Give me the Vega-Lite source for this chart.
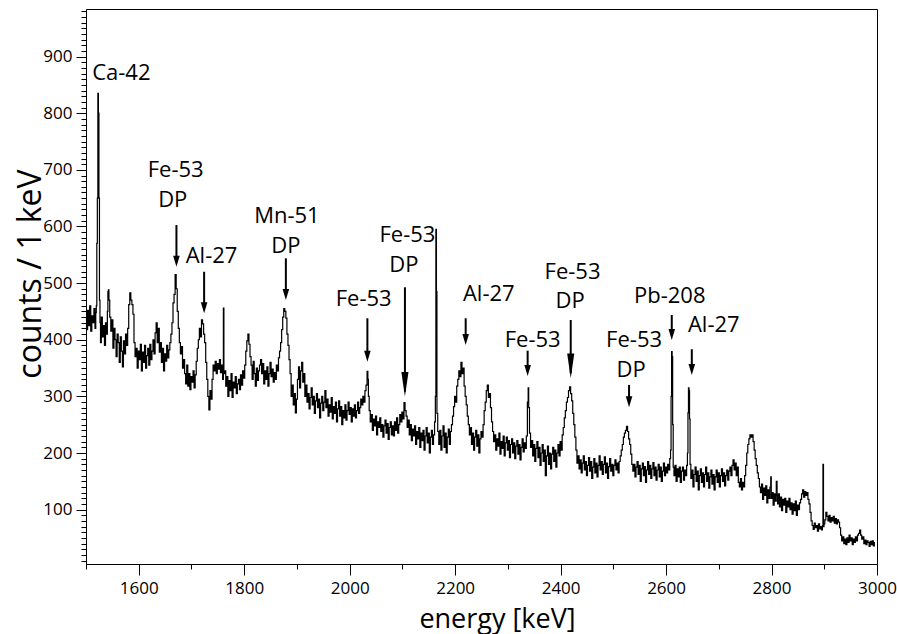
{
"$schema": "https://vega.github.io/schema/vega-lite/v6.json",
"width": 791, "height": 555,
"autosize": {"type": "none"},
"padding": {"left": 86, "top": 9, "right": 20, "bottom": 70},
"config": {"view": {"stroke": "black", "strokeWidth": 1}, "font": "Open Sans",
  "axis": {"grid": false, "domainColor": "black", "tickColor": "black", "labelColor": "black", "titleColor": "black", "labelFont": "Open Sans", "titleFont": "Open Sans", "labelFontSize": 17, "titleFontWeight": "normal", "labelOverlap": false, "labelFlush": false, "tickWidth": 1, "domainWidth": 1}},
"resolve": {"axis": {"x": "independent", "y": "independent"}},
"datasets": {
"spec": [
{"e":1500,"c":440},{"e":1502,"c":418},{"e":1504,"c":452},{"e":1506,"c":425},{"e":1508,"c":460},{"e":1510,"c":415},{"e":1512,"c":442},{"e":1514,"c":430},{"e":1516,"c":455},{"e":1518,"c":420},{"e":1519,"c":448},
{"e":1520,"c":460},{"e":1521,"c":570},{"e":1522,"c":650},{"e":1523,"c":835},{"e":1524,"c":800},{"e":1525,"c":650},{"e":1526,"c":470},{"e":1527,"c":430},
{"e":1528,"c":395},{"e":1530,"c":440},{"e":1532,"c":405},{"e":1534,"c":425},{"e":1536,"c":390},{"e":1538,"c":430},{"e":1540,"c":410},{"e":1541,"c":450},{"e":1542,"c":485},{"e":1543,"c":488},{"e":1544,"c":470},{"e":1546,"c":440},{"e":1548,"c":415},
{"e":1550,"c":435},{"e":1552,"c":385},{"e":1554,"c":420},{"e":1556,"c":400},{"e":1558,"c":370},{"e":1560,"c":410},{"e":1562,"c":395},{"e":1564,"c":360},{"e":1566,"c":405},{"e":1568,"c":380},{"e":1570,"c":352},{"e":1572,"c":398},{"e":1574,"c":375},{"e":1576,"c":410},{"e":1578,"c":390},
{"e":1580,"c":420},{"e":1582,"c":462},{"e":1584,"c":483},{"e":1586,"c":470},{"e":1588,"c":462},{"e":1590,"c":445},{"e":1592,"c":395},{"e":1594,"c":370},{"e":1596,"c":385},{"e":1598,"c":350},
{"e":1600,"c":380},{"e":1602,"c":365},{"e":1604,"c":392},{"e":1606,"c":345},{"e":1608,"c":378},{"e":1610,"c":360},{"e":1612,"c":390},{"e":1614,"c":350},{"e":1616,"c":372},{"e":1618,"c":385},{"e":1620,"c":355},{"e":1622,"c":392},{"e":1624,"c":365},{"e":1626,"c":380},{"e":1628,"c":400},
{"e":1630,"c":375},{"e":1632,"c":412},{"e":1634,"c":430},{"e":1636,"c":395},{"e":1638,"c":420},{"e":1640,"c":378},{"e":1642,"c":395},{"e":1644,"c":360},{"e":1646,"c":385},{"e":1648,"c":345},{"e":1650,"c":375},{"e":1652,"c":362},{"e":1654,"c":390},{"e":1656,"c":368},{"e":1658,"c":382},
{"e":1660,"c":395},{"e":1662,"c":410},{"e":1664,"c":430},{"e":1666,"c":465},{"e":1668,"c":480},{"e":1670,"c":515},{"e":1672,"c":490},{"e":1674,"c":450},{"e":1676,"c":420},{"e":1678,"c":395},
{"e":1680,"c":375},{"e":1682,"c":388},{"e":1684,"c":350},{"e":1686,"c":365},{"e":1688,"c":340},{"e":1690,"c":322},{"e":1692,"c":355},{"e":1694,"c":318},{"e":1696,"c":340},{"e":1698,"c":312},
{"e":1700,"c":335},{"e":1702,"c":325},{"e":1704,"c":345},{"e":1706,"c":315},{"e":1708,"c":338},{"e":1710,"c":362},{"e":1712,"c":385},{"e":1714,"c":400},{"e":1716,"c":420},{"e":1718,"c":405},{"e":1720,"c":435},{"e":1722,"c":428},{"e":1724,"c":410},{"e":1726,"c":395},{"e":1728,"c":360},
{"e":1730,"c":330},{"e":1732,"c":300},{"e":1734,"c":276},{"e":1736,"c":310},{"e":1738,"c":295},{"e":1740,"c":330},{"e":1742,"c":355},{"e":1744,"c":345},{"e":1746,"c":362},{"e":1748,"c":340},{"e":1750,"c":358},{"e":1752,"c":348},{"e":1754,"c":365},{"e":1756,"c":342},{"e":1758,"c":355},
{"e":1760,"c":330},{"e":1761,"c":456},{"e":1762,"c":340},{"e":1764,"c":345},{"e":1766,"c":318},{"e":1768,"c":335},{"e":1770,"c":300},{"e":1772,"c":328},{"e":1774,"c":310},{"e":1776,"c":340},{"e":1778,"c":298},
{"e":1780,"c":325},{"e":1782,"c":315},{"e":1784,"c":335},{"e":1786,"c":305},{"e":1788,"c":322},{"e":1790,"c":330},{"e":1792,"c":312},{"e":1794,"c":338},{"e":1796,"c":320},{"e":1798,"c":345},
{"e":1800,"c":332},{"e":1802,"c":355},{"e":1804,"c":380},{"e":1806,"c":398},{"e":1808,"c":410},{"e":1810,"c":392},{"e":1812,"c":370},{"e":1814,"c":355},{"e":1816,"c":330},{"e":1818,"c":362},
{"e":1820,"c":340},{"e":1822,"c":318},{"e":1824,"c":350},{"e":1826,"c":328},{"e":1828,"c":345},{"e":1830,"c":355},{"e":1832,"c":365},{"e":1834,"c":340},{"e":1836,"c":358},{"e":1838,"c":322},
{"e":1840,"c":345},{"e":1842,"c":330},{"e":1844,"c":352},{"e":1846,"c":318},{"e":1848,"c":340},{"e":1850,"c":360},{"e":1852,"c":335},{"e":1854,"c":348},{"e":1856,"c":325},{"e":1858,"c":342},
{"e":1860,"c":330},{"e":1862,"c":355},{"e":1864,"c":345},{"e":1866,"c":368},{"e":1868,"c":380},{"e":1870,"c":395},{"e":1872,"c":418},{"e":1874,"c":440},{"e":1876,"c":455},{"e":1878,"c":450},
{"e":1880,"c":438},{"e":1882,"c":410},{"e":1884,"c":390},{"e":1886,"c":365},{"e":1888,"c":340},{"e":1890,"c":300},{"e":1892,"c":320},{"e":1894,"c":285},{"e":1896,"c":305},{"e":1898,"c":271},
{"e":1900,"c":295},{"e":1902,"c":330},{"e":1904,"c":352},{"e":1906,"c":315},{"e":1908,"c":345},{"e":1910,"c":360},{"e":1912,"c":325},{"e":1914,"c":340},{"e":1916,"c":300},{"e":1918,"c":320},
{"e":1920,"c":290},{"e":1922,"c":305},{"e":1924,"c":278},{"e":1926,"c":298},{"e":1928,"c":315},{"e":1930,"c":285},{"e":1932,"c":300},{"e":1934,"c":270},{"e":1936,"c":292},{"e":1938,"c":305},
{"e":1940,"c":280},{"e":1942,"c":295},{"e":1944,"c":262},{"e":1946,"c":288},{"e":1948,"c":300},{"e":1950,"c":275},{"e":1952,"c":290},{"e":1954,"c":310},{"e":1956,"c":280},{"e":1958,"c":295},
{"e":1960,"c":265},{"e":1962,"c":285},{"e":1964,"c":272},{"e":1966,"c":298},{"e":1968,"c":260},{"e":1970,"c":282},{"e":1972,"c":270},{"e":1974,"c":290},{"e":1976,"c":255},{"e":1978,"c":278},
{"e":1980,"c":292},{"e":1982,"c":265},{"e":1984,"c":282},{"e":1986,"c":250},{"e":1988,"c":275},{"e":1990,"c":262},{"e":1992,"c":285},{"e":1994,"c":258},{"e":1996,"c":275},{"e":1998,"c":290},
{"e":2000,"c":268},{"e":2002,"c":280},{"e":2004,"c":255},{"e":2006,"c":278},{"e":2008,"c":265},{"e":2010,"c":285},{"e":2012,"c":262},{"e":2014,"c":275},{"e":2016,"c":290},{"e":2018,"c":270},
{"e":2020,"c":280},{"e":2022,"c":295},{"e":2024,"c":285},{"e":2026,"c":300},{"e":2028,"c":290},{"e":2030,"c":310},{"e":2032,"c":320},{"e":2034,"c":344},{"e":2035,"c":330},{"e":2036,"c":300},{"e":2038,"c":275},
{"e":2040,"c":255},{"e":2042,"c":268},{"e":2044,"c":240},{"e":2046,"c":260},{"e":2048,"c":248},{"e":2050,"c":265},{"e":2052,"c":232},{"e":2054,"c":255},{"e":2056,"c":245},{"e":2058,"c":262},
{"e":2060,"c":238},{"e":2062,"c":250},{"e":2064,"c":228},{"e":2066,"c":248},{"e":2068,"c":258},{"e":2070,"c":235},{"e":2072,"c":252},{"e":2074,"c":224},{"e":2076,"c":245},{"e":2078,"c":255},
{"e":2080,"c":232},{"e":2082,"c":248},{"e":2084,"c":230},{"e":2086,"c":255},{"e":2088,"c":240},{"e":2090,"c":262},{"e":2092,"c":235},{"e":2094,"c":250},{"e":2096,"c":268},{"e":2098,"c":255},
{"e":2100,"c":272},{"e":2102,"c":260},{"e":2104,"c":289},{"e":2106,"c":275},{"e":2108,"c":265},{"e":2110,"c":245},{"e":2112,"c":258},{"e":2114,"c":232},{"e":2116,"c":250},{"e":2118,"c":222},
{"e":2120,"c":242},{"e":2122,"c":230},{"e":2124,"c":248},{"e":2126,"c":215},{"e":2128,"c":238},{"e":2130,"c":225},{"e":2132,"c":245},{"e":2134,"c":210},{"e":2136,"c":235},{"e":2138,"c":222},
{"e":2140,"c":240},{"e":2142,"c":205},{"e":2144,"c":230},{"e":2146,"c":245},{"e":2148,"c":218},{"e":2150,"c":235},{"e":2152,"c":200},{"e":2154,"c":228},{"e":2156,"c":240},{"e":2158,"c":215},
{"e":2160,"c":232},{"e":2162,"c":255},{"e":2163,"c":300},{"e":2164,"c":595},{"e":2165,"c":485},{"e":2166,"c":270},{"e":2168,"c":238},
{"e":2170,"c":215},{"e":2172,"c":240},{"e":2174,"c":205},{"e":2176,"c":230},{"e":2178,"c":248},{"e":2180,"c":210},{"e":2182,"c":235},{"e":2184,"c":200},{"e":2186,"c":228},{"e":2188,"c":242},
{"e":2190,"c":215},{"e":2192,"c":238},{"e":2194,"c":250},{"e":2196,"c":265},{"e":2198,"c":282},{"e":2200,"c":300},{"e":2202,"c":290},{"e":2204,"c":318},{"e":2206,"c":330},{"e":2208,"c":345},
{"e":2210,"c":335},{"e":2212,"c":360},{"e":2214,"c":340},{"e":2216,"c":350},{"e":2218,"c":318},{"e":2220,"c":300},{"e":2222,"c":285},{"e":2224,"c":265},{"e":2226,"c":250},{"e":2228,"c":232},
{"e":2230,"c":245},{"e":2232,"c":215},{"e":2234,"c":235},{"e":2236,"c":205},{"e":2238,"c":228},{"e":2240,"c":240},{"e":2242,"c":212},{"e":2244,"c":232},{"e":2246,"c":200},{"e":2248,"c":225},
{"e":2250,"c":238},{"e":2252,"c":228},{"e":2254,"c":250},{"e":2256,"c":275},{"e":2258,"c":290},{"e":2260,"c":310},{"e":2262,"c":320},{"e":2264,"c":298},{"e":2266,"c":305},{"e":2268,"c":280},
{"e":2270,"c":255},{"e":2272,"c":238},{"e":2274,"c":220},{"e":2276,"c":232},{"e":2278,"c":205},{"e":2280,"c":225},{"e":2282,"c":212},{"e":2284,"c":235},{"e":2286,"c":198},{"e":2288,"c":220},
{"e":2290,"c":208},{"e":2292,"c":230},{"e":2294,"c":195},{"e":2296,"c":218},{"e":2298,"c":228},{"e":2300,"c":205},{"e":2302,"c":222},{"e":2304,"c":192},{"e":2306,"c":215},{"e":2308,"c":225},
{"e":2310,"c":200},{"e":2312,"c":218},{"e":2314,"c":190},{"e":2316,"c":212},{"e":2318,"c":222},{"e":2320,"c":198},{"e":2322,"c":215},{"e":2324,"c":188},{"e":2326,"c":210},{"e":2328,"c":225},
{"e":2330,"c":202},{"e":2332,"c":218},{"e":2334,"c":208},{"e":2336,"c":230},{"e":2338,"c":290},{"e":2339,"c":315},{"e":2340,"c":280},{"e":2342,"c":235},{"e":2344,"c":210},{"e":2346,"c":222},{"e":2348,"c":195},
{"e":2350,"c":215},{"e":2352,"c":185},{"e":2354,"c":208},{"e":2356,"c":220},{"e":2358,"c":192},{"e":2360,"c":210},{"e":2362,"c":178},{"e":2364,"c":200},{"e":2366,"c":215},{"e":2368,"c":185},
{"e":2370,"c":205},{"e":2372,"c":160},{"e":2374,"c":195},{"e":2376,"c":212},{"e":2378,"c":180},{"e":2380,"c":200},{"e":2382,"c":172},{"e":2384,"c":198},{"e":2386,"c":210},{"e":2388,"c":185},
{"e":2390,"c":205},{"e":2392,"c":175},{"e":2394,"c":200},{"e":2396,"c":215},{"e":2398,"c":195},{"e":2400,"c":220},{"e":2402,"c":205},{"e":2404,"c":232},{"e":2406,"c":245},{"e":2408,"c":262},
{"e":2410,"c":275},{"e":2412,"c":290},{"e":2414,"c":298},{"e":2416,"c":310},{"e":2418,"c":317},{"e":2420,"c":305},{"e":2422,"c":292},{"e":2424,"c":270},{"e":2426,"c":250},{"e":2428,"c":228},
{"e":2430,"c":205},{"e":2432,"c":182},{"e":2434,"c":195},{"e":2436,"c":172},{"e":2438,"c":188},{"e":2440,"c":165},{"e":2442,"c":182},{"e":2444,"c":195},{"e":2446,"c":170},{"e":2448,"c":185},
{"e":2450,"c":160},{"e":2452,"c":178},{"e":2454,"c":192},{"e":2456,"c":168},{"e":2458,"c":185},{"e":2460,"c":155},{"e":2462,"c":175},{"e":2464,"c":190},{"e":2466,"c":165},{"e":2468,"c":182},
{"e":2470,"c":158},{"e":2472,"c":178},{"e":2474,"c":195},{"e":2476,"c":170},{"e":2478,"c":185},{"e":2480,"c":162},{"e":2482,"c":180},{"e":2484,"c":193},{"e":2486,"c":165},{"e":2488,"c":182},
{"e":2490,"c":155},{"e":2492,"c":176},{"e":2494,"c":190},{"e":2496,"c":168},{"e":2498,"c":180},{"e":2500,"c":160},{"e":2502,"c":178},{"e":2504,"c":188},{"e":2506,"c":170},{"e":2508,"c":182},
{"e":2510,"c":165},{"e":2512,"c":185},{"e":2514,"c":195},{"e":2516,"c":205},{"e":2518,"c":215},{"e":2520,"c":228},{"e":2522,"c":235},{"e":2524,"c":240},{"e":2526,"c":247},{"e":2528,"c":238},
{"e":2530,"c":225},{"e":2532,"c":215},{"e":2534,"c":198},{"e":2536,"c":180},{"e":2538,"c":168},{"e":2540,"c":180},{"e":2542,"c":158},{"e":2544,"c":175},{"e":2546,"c":185},{"e":2548,"c":162},
{"e":2550,"c":178},{"e":2552,"c":150},{"e":2554,"c":172},{"e":2556,"c":182},{"e":2558,"c":160},{"e":2560,"c":176},{"e":2562,"c":148},{"e":2564,"c":170},{"e":2566,"c":185},{"e":2568,"c":162},
{"e":2570,"c":178},{"e":2572,"c":155},{"e":2574,"c":172},{"e":2576,"c":183},{"e":2578,"c":160},{"e":2580,"c":175},{"e":2582,"c":152},{"e":2584,"c":170},{"e":2586,"c":180},{"e":2588,"c":158},
{"e":2590,"c":175},{"e":2592,"c":150},{"e":2594,"c":168},{"e":2596,"c":182},{"e":2598,"c":160},{"e":2600,"c":175},{"e":2602,"c":165},{"e":2604,"c":180},{"e":2606,"c":170},{"e":2608,"c":190},
{"e":2609,"c":205},{"e":2610,"c":300},{"e":2611,"c":379},{"e":2612,"c":370},{"e":2613,"c":250},{"e":2614,"c":175},{"e":2616,"c":160},{"e":2618,"c":178},
{"e":2620,"c":150},{"e":2622,"c":172},{"e":2624,"c":158},{"e":2626,"c":175},{"e":2628,"c":148},{"e":2630,"c":168},{"e":2632,"c":175},{"e":2634,"c":152},{"e":2636,"c":170},{"e":2638,"c":160},
{"e":2640,"c":178},{"e":2641,"c":200},{"e":2642,"c":271},{"e":2643,"c":315},{"e":2644,"c":310},{"e":2645,"c":260},{"e":2646,"c":180},{"e":2648,"c":155},
{"e":2650,"c":170},{"e":2652,"c":140},{"e":2654,"c":162},{"e":2656,"c":175},{"e":2658,"c":150},{"e":2660,"c":168},{"e":2662,"c":135},{"e":2664,"c":160},{"e":2666,"c":172},{"e":2668,"c":148},
{"e":2670,"c":165},{"e":2672,"c":140},{"e":2674,"c":162},{"e":2676,"c":175},{"e":2678,"c":150},{"e":2680,"c":165},{"e":2682,"c":138},{"e":2684,"c":158},{"e":2686,"c":170},{"e":2688,"c":145},
{"e":2690,"c":162},{"e":2692,"c":135},{"e":2694,"c":158},{"e":2696,"c":170},{"e":2698,"c":148},{"e":2700,"c":165},{"e":2702,"c":140},{"e":2704,"c":160},{"e":2706,"c":172},{"e":2708,"c":150},
{"e":2710,"c":165},{"e":2712,"c":142},{"e":2714,"c":160},{"e":2716,"c":170},{"e":2718,"c":152},{"e":2720,"c":168},{"e":2722,"c":175},{"e":2724,"c":160},{"e":2726,"c":178},{"e":2728,"c":188},
{"e":2730,"c":170},{"e":2732,"c":182},{"e":2734,"c":160},{"e":2736,"c":175},{"e":2738,"c":148},{"e":2740,"c":140},{"e":2742,"c":155},{"e":2744,"c":135},{"e":2746,"c":148},{"e":2748,"c":140},
{"e":2750,"c":160},{"e":2752,"c":178},{"e":2754,"c":200},{"e":2756,"c":215},{"e":2758,"c":225},{"e":2760,"c":232},{"e":2762,"c":228},{"e":2764,"c":232},{"e":2766,"c":220},{"e":2768,"c":205},
{"e":2770,"c":190},{"e":2772,"c":178},{"e":2774,"c":165},{"e":2776,"c":155},{"e":2778,"c":140},{"e":2780,"c":130},{"e":2782,"c":145},{"e":2784,"c":118},{"e":2786,"c":138},{"e":2788,"c":125},
{"e":2790,"c":142},{"e":2792,"c":112},{"e":2794,"c":135},{"e":2796,"c":120},{"e":2798,"c":140},{"e":2799,"c":158},{"e":2800,"c":120},{"e":2802,"c":130},{"e":2804,"c":108},{"e":2806,"c":128},{"e":2808,"c":115},
{"e":2810,"c":150},{"e":2811,"c":125},{"e":2812,"c":110},{"e":2814,"c":128},{"e":2816,"c":105},{"e":2818,"c":122},{"e":2820,"c":98},{"e":2822,"c":118},{"e":2824,"c":108},{"e":2826,"c":120},{"e":2828,"c":95},
{"e":2830,"c":115},{"e":2832,"c":105},{"e":2834,"c":120},{"e":2836,"c":100},{"e":2838,"c":112},{"e":2840,"c":92},{"e":2842,"c":110},{"e":2844,"c":98},{"e":2846,"c":115},{"e":2848,"c":90},
{"e":2850,"c":108},{"e":2852,"c":100},{"e":2854,"c":112},{"e":2856,"c":118},{"e":2858,"c":128},{"e":2860,"c":135},{"e":2862,"c":122},{"e":2864,"c":132},{"e":2866,"c":125},{"e":2868,"c":130},
{"e":2870,"c":118},{"e":2872,"c":110},{"e":2874,"c":95},{"e":2876,"c":80},{"e":2878,"c":72},{"e":2880,"c":65},{"e":2882,"c":76},{"e":2884,"c":68},{"e":2886,"c":72},{"e":2888,"c":62},
{"e":2890,"c":75},{"e":2892,"c":66},{"e":2894,"c":70},{"e":2896,"c":64},{"e":2897,"c":72},{"e":2898,"c":180},{"e":2899,"c":70},{"e":2900,"c":75},{"e":2902,"c":82},{"e":2904,"c":95},{"e":2906,"c":88},{"e":2908,"c":80},
{"e":2910,"c":90},{"e":2912,"c":78},{"e":2914,"c":86},{"e":2916,"c":80},{"e":2918,"c":88},{"e":2920,"c":76},{"e":2922,"c":84},{"e":2924,"c":75},{"e":2926,"c":82},{"e":2928,"c":78},
{"e":2930,"c":68},{"e":2932,"c":55},{"e":2934,"c":45},{"e":2936,"c":52},{"e":2938,"c":40},{"e":2940,"c":48},{"e":2942,"c":38},{"e":2944,"c":50},{"e":2946,"c":42},{"e":2948,"c":55},
{"e":2950,"c":45},{"e":2952,"c":50},{"e":2954,"c":38},{"e":2956,"c":48},{"e":2958,"c":42},{"e":2960,"c":52},{"e":2962,"c":45},{"e":2964,"c":55},{"e":2966,"c":58},{"e":2968,"c":64},
{"e":2970,"c":55},{"e":2972,"c":48},{"e":2974,"c":52},{"e":2976,"c":40},{"e":2978,"c":46},{"e":2980,"c":38},{"e":2982,"c":45},{"e":2984,"c":42},{"e":2986,"c":35},{"e":2988,"c":44},
{"e":2990,"c":38},{"e":2992,"c":45},{"e":2994,"c":36},{"e":2996,"c":42}
],
"labels": [
{"t":"Ca-42","e":1567,"c":858},
{"t":"Fe-53","e":1670,"c":687},{"t":"DP","e":1664.5,"c":634},
{"t":"Al-27","e":1738,"c":535},
{"t":"Mn-51","e":1881,"c":606},{"t":"DP","e":1879,"c":552.6},
{"t":"Fe-53","e":2026.6,"c":459.6},
{"t":"Fe-53","e":2109.5,"c":573},{"t":"DP","e":2102.8,"c":520},
{"t":"Al-27","e":2263.8,"c":469},
{"t":"Fe-53","e":2347,"c":387.8},
{"t":"Fe-53","e":2422.6,"c":507.2},{"t":"DP","e":2417.9,"c":455.5},
{"t":"Fe-53","e":2539.3,"c":387.8},{"t":"DP","e":2533.6,"c":333.8},
{"t":"Pb-208","e":2607,"c":465.4},
{"t":"Al-27","e":2690.5,"c":414.3}
],
"arrows": [
{"e":1671.5,"c1":602.5,"c2":529},
{"e":1724,"c1":520,"c2":446.7},
{"e":1879,"c1":543.8,"c2":470.2},
{"e":2033.6,"c1":437.9,"c2":361.3},
{"e":2104.8,"c1":492.6,"c2":299.6},
{"e":2220,"c1":437.9,"c2":390.8},
{"e":2337.5,"c1":380.7,"c2":336.1},
{"e":2419.2,"c1":434.9,"c2":332},
{"e":2529.8,"c1":320.2,"c2":280.9},
{"e":2610.8,"c1":443.7,"c2":399.6},
{"e":2648.8,"c1":383.2,"c2":337.9}
]
},
"layer": [
{
"data": {"name": "spec"},
"mark": {"type": "line", "interpolate": "step", "color": "black", "strokeWidth": 1.2},
"encoding": {
"x": {"field": "e", "type": "quantitative", "scale": {"domain": [1500, 3000], "nice": false, "zero": false},
 "axis": {"orient": "bottom", "values": [1600,1800,2000,2200,2400,2600,2800,3000], "format": "d", "tickSize": 11,
  "labelPadding": 5, "title": "energy [keV]", "titleFontSize": 27, "titleX": 411, "titleY": 63, "titleBaseline": "alphabetic", "titleAlign": "center"}},
"y": {"field": "c", "type": "quantitative", "scale": {"domain": [4, 984], "nice": false, "zero": false},
 "axis": {"orient": "left", "values": [100,200,300,400,500,600,700,800,900], "format": "d", "tickSize": 10,
  "labelPadding": 4, "title": "counts / 1 keV", "titleFontSize": 32, "titleX": -46, "titleY": 264.5, "titleAngle": 270, "titleBaseline": "alphabetic", "titleAlign": "center"}}
}
},
{
"data": {"name": "spec"},
"mark": {"type": "line", "strokeOpacity": 0, "opacity": 0},
"encoding": {
"x": {"field": "e", "type": "quantitative", "scale": {"domain": [1500, 3000], "nice": false, "zero": false},
 "axis": {"orient": "bottom", "values": [1500,1700,1900,2100,2300,2500,2700,2900], "tickSize": 5, "labels": false, "domain": false, "title": null}},
"y": {"field": "c", "type": "quantitative", "scale": {"domain": [4, 984], "nice": false, "zero": false},
 "axis": {"orient": "left", "values": [10,20,30,40,50,60,70,80,90,110,120,130,140,150,160,170,180,190,210,220,230,240,250,260,270,280,290,310,320,330,340,350,360,370,380,390,410,420,430,440,450,460,470,480,490,510,520,530,540,550,560,570,580,590,610,620,630,640,650,660,670,680,690,710,720,730,740,750,760,770,780,790,810,820,830,840,850,860,870,880,890,910,920,930,940,950,960,970,980],
  "tickSize": 5, "labels": false, "domain": false, "title": null}}
}
},
{
"data": {"name": "arrows"},
"mark": {"type": "rule", "color": "black", "strokeWidth": 2, "y2Offset": -5},
"encoding": {
"x": {"field": "e", "type": "quantitative", "axis": null},
"y": {"field": "c1", "type": "quantitative", "axis": null},
"y2": {"field": "c2"}
}
},
{
"data": {"name": "arrows"},
"mark": {"type": "point", "filled": true, "color": "black", "opacity": 1, "strokeWidth": 0, "size": 30},
"encoding": {
"x": {"field": "e", "type": "quantitative", "axis": null},
"y": {"field": "c2", "type": "quantitative", "axis": null},
"shape": {"condition": {"test": "(datum.e > 2100 && datum.e < 2110) || (datum.e > 2415 && datum.e < 2425)", "value": "M-1.3,-9L1.3,-9L0,0Z"}, "value": "M-1.2,-4L1.2,-4L0,0Z"}
}
},
{
"data": {"name": "labels"},
"mark": {"type": "text", "font": "Open Sans", "fontSize": 22, "color": "black", "align": "center", "baseline": "alphabetic"},
"encoding": {
"x": {"field": "e", "type": "quantitative", "axis": null},
"y": {"field": "c", "type": "quantitative", "axis": null},
"text": {"field": "t"}
}
}
]
}
